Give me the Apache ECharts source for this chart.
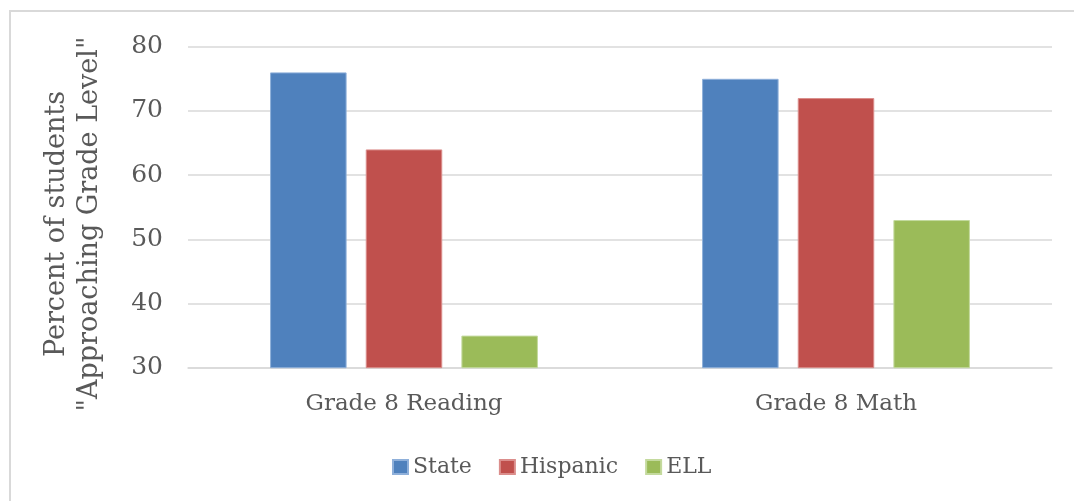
<!DOCTYPE html>
<html>
<head>
<meta charset="utf-8">
<script src="https://cdn.jsdelivr.net/npm/echarts@6/dist/echarts.min.js"></script>
<style>
  html, body { margin: 0; padding: 0; background: #fff; }
  #chart { width: 1074px; height: 501px; }
</style>
</head>
<body>
<div id="chart"></div>
<script>
// Grade 8 results: share of students approaching grade level
const categories = ['Grade 8 Reading', 'Grade 8 Math'];
const seriesNames = ['State', 'Hispanic', 'ELL'];
const stateValues = [76, 75];
const hispanicValues = [64, 72];
const ellValues = [35, 53];
const yTicks = { min: 30, max: 80, interval: 10 };
const yTitle = 'Percent of students\n"Approaching Grade Level"';

const colors = ['#4F81BD', '#C0504D', '#9BBB59'];
const borders = ['#8FB0DA', '#DB8E8C', '#C4DA9E'];
const font = 'DejaVu Serif';
const textColor = '#595959';

const chart = echarts.init(document.getElementById('chart'));
const values = [stateValues, hispanicValues, ellValues];

chart.setOption({
  animation: false,
  color: colors,
  graphic: [{
    type: 'rect',
    shape: { x: 10, y: 11, width: 1080, height: 520 },
    style: { fill: 'none', stroke: '#D9D9D9', lineWidth: 2 },
    silent: true
  }, {
    // vertical axis title, two lines, rotated
    type: 'text',
    x: 73.5,
    y: 224,
    rotation: Math.PI / 2,
    silent: true,
    style: {
      text: yTitle,
      font: '27px "DejaVu Serif"',
      fill: textColor,
      align: 'center',
      verticalAlign: 'middle',
      lineHeight: 33
    }
  }],
  grid: { left: 188, right: 22, top: 46.7, bottom: 133.3 },
  legend: {
    data: seriesNames,
    top: 451,
    left: 387,
    itemWidth: 15,
    itemHeight: 14,
    itemGap: 27,
    icon: 'rect',
    textStyle: { fontFamily: font, fontSize: 22, color: textColor }
  },
  xAxis: {
    type: 'category',
    data: categories,
    axisLine: { lineStyle: { color: '#D9D9D9', width: 1.5 } },
    axisTick: { show: false },
    axisLabel: { fontFamily: font, fontSize: 23, color: textColor, margin: 25 }
  },
  yAxis: {
    type: 'value',
    min: yTicks.min,
    max: yTicks.max,
    interval: yTicks.interval,
    axisLine: { show: false },
    axisTick: { show: false },
    splitLine: { lineStyle: { color: '#D9D9D9', width: 1.5 } },
    axisLabel: { fontFamily: font, fontSize: 25, color: textColor, margin: 25 }
  },
  series: seriesNames.map((name, i) => ({
    name: name,
    type: 'bar',
    data: values[i],
    barGap: '25%',
    barCategoryGap: '38%',
    itemStyle: { color: colors[i], borderColor: borders[i], borderWidth: 1 }
  }))
});
</script>
</body>
</html>
